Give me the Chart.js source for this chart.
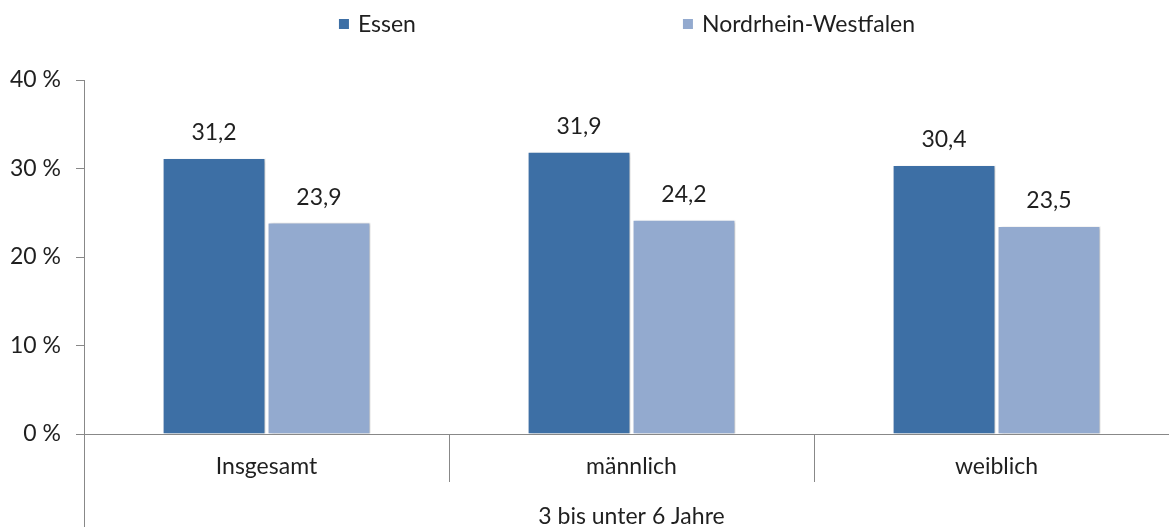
<!DOCTYPE html>
<html><head><meta charset="utf-8">
<script src="https://cdn.jsdelivr.net/npm/chart.js@4"></script>
<style>html,body{margin:0;padding:0;overflow:hidden;background:#fff}#wrap{width:1179px;height:527px;position:relative}</style>
</head><body><div id="wrap"><canvas id="c"></canvas></div>
<script>
const categories = ['Insgesamt', 'männlich', 'weiblich'];
const groupLabels = ['3 bis unter 6 Jahre'];
const seriesNames = ['Essen', 'Nordrhein-Westfalen'];
const essenValues = [31.2, 31.9, 30.4];
const nrwValues = [23.9, 24.2, 23.5];
const yTickValues = [0, 10, 20, 30, 40];

const FONT = 'Lato, "Noto Sans", sans-serif';
const FSIZE = 23;
const TEXT = '#1f1f1f';
const AXIS = '#888888';
const COLORS = ['#3D6FA5', '#93AACF'];
const fmt = v => v.toFixed(1).replace('.', ',');

const shadowPlugin = {
  id: 'barShadow',
  beforeDatasetsDraw(chart) {
    const ctx = chart.ctx;
    ctx.save();
    ctx.shadowColor = 'rgba(0,0,0,0.28)';
    ctx.shadowBlur = 3;
    ctx.shadowOffsetX = 2;
    ctx.shadowOffsetY = 1;
  },
  afterDatasetsDraw(chart) { chart.ctx.restore(); }
};

const valueLabelPlugin = {
  id: 'valueLabels',
  afterDraw(chart) {
    const ctx = chart.ctx;
    ctx.save();
    ctx.font = FSIZE + 'px ' + FONT;
    ctx.fillStyle = TEXT;
    ctx.textAlign = 'center';
    ctx.textBaseline = 'middle';
    chart.data.datasets.forEach((ds, i) => {
      chart.getDatasetMeta(i).data.forEach((bar, j) => {
        ctx.fillText(fmt(ds.data[j]), bar.x, bar.y - 25);
      });
    });
    ctx.restore();
  }
};

const legendPlugin = {
  id: 'topLegend',
  afterDraw(chart) {
    const ctx = chart.ctx;
    ctx.save();
    ctx.font = FSIZE + 'px ' + FONT;
    ctx.textBaseline = 'middle';
    const box = 10, gapText = 9, gapItem = 267, y = 24;
    const items = chart.data.datasets.map(ds => ({label: ds.label, color: ds.backgroundColor, w: ctx.measureText(ds.label).width}));
    let total = 0;
    items.forEach((it, i) => { total += box + gapText + it.w + (i < items.length - 1 ? gapItem : 0); });
    let x = 627 - total / 2;
    items.forEach(it => {
      ctx.fillStyle = it.color;
      ctx.fillRect(x, y - box / 2, box, box);
      ctx.fillStyle = TEXT;
      ctx.textAlign = 'left';
      ctx.fillText(it.label, x + box + gapText, y + 1);
      x += box + gapText + it.w + gapItem;
    });
    ctx.restore();
  }
};

new Chart(document.getElementById('c'), {
  type: 'bar',
  data: {
    labels: categories,
    datasets: [
      {label: seriesNames[0], data: essenValues, backgroundColor: COLORS[0], borderColor: '#ffffff', borderWidth: 1, xAxisID: 'x'},
      {label: seriesNames[1], data: nrwValues, backgroundColor: COLORS[1], borderColor: '#ffffff', borderWidth: 1, xAxisID: 'x'}
    ]
  },
  options: {
    responsive: true,
    maintainAspectRatio: false,
    animation: false,
    events: [],
    layout: {padding: {top: 80, left: 0, right: 0, bottom: 0}},
    datasets: {bar: {categoryPercentage: 0.575, barPercentage: 0.98}},
    plugins: {legend: {display: false}, tooltip: {enabled: false}},
    scales: {
      y: {
        min: 0, max: 40,
        afterFit: s => { s.width = 84; },
        afterBuildTicks: s => { s.ticks = yTickValues.map(v => ({value: v})); },
        ticks: {callback: v => v + ' %', color: TEXT, font: {family: FONT, size: FSIZE}, padding: 15},
        grid: {drawOnChartArea: false, tickLength: 8, color: AXIS, lineWidth: 1},
        border: {color: AXIS, width: 1}
      },
      x: {
        position: 'bottom',
        afterFit: s => { s.height = 48; },
        ticks: {color: TEXT, font: {family: FONT, size: FSIZE}, padding: -29, maxRotation: 0},
        grid: {offset: true, drawOnChartArea: false, tickLength: 48, color: AXIS, lineWidth: 1},
        border: {color: AXIS, width: 1}
      },
      x2: {
        type: 'category',
        position: 'bottom',
        labels: groupLabels,
        afterFit: s => { s.height = 45; },
        ticks: {color: TEXT, font: {family: FONT, size: FSIZE}, padding: -24, maxRotation: 0},
        grid: {offset: true, drawOnChartArea: false, tickLength: 45, color: AXIS, lineWidth: 1},
        border: {display: false}
      }
    }
  },
  plugins: [shadowPlugin, valueLabelPlugin, legendPlugin]
});
</script>
</body></html>
